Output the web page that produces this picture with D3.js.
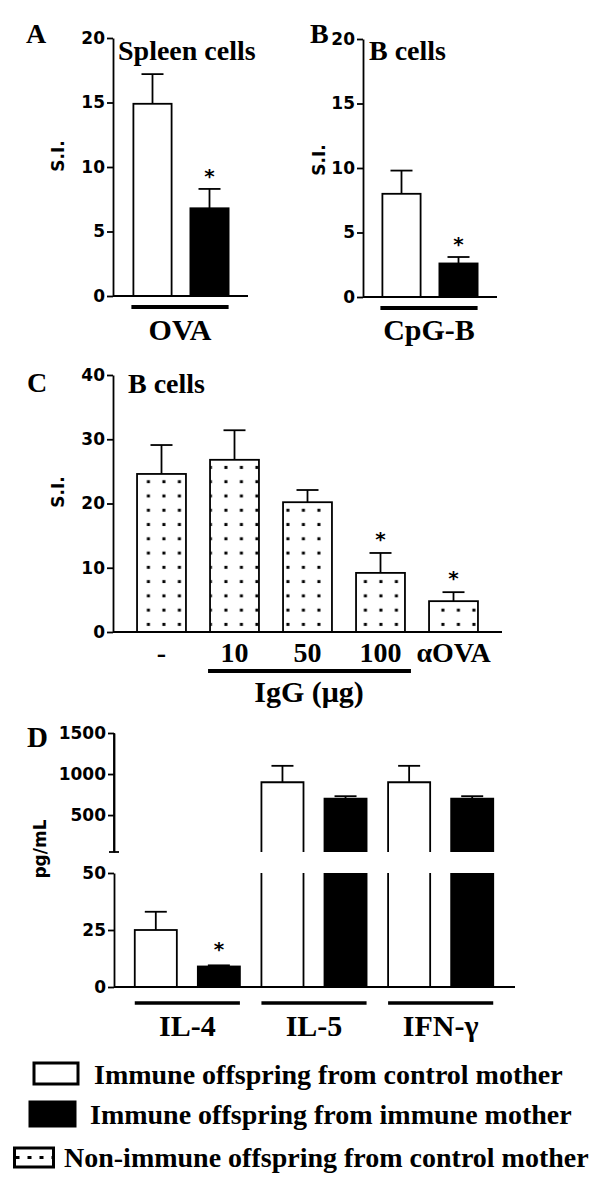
<!DOCTYPE html>
<html>
<head>
<meta charset="utf-8">
<script src="https://cdn.jsdelivr.net/npm/d3@7"></script>
<style>
  body { margin: 0; background: #fff; }
  svg { display: block; }
  .serif { font-family: "Liberation Serif", "Times New Roman", serif; font-weight: bold; }
  .sans { font-family: "DejaVu Sans", sans-serif; font-weight: bold; }
</style>
</head>
<body>
<div id="chart"></div>
<script>
// ---- data ----
var groups = ["control", "immune"];
var legendLabels = ["Immune offspring from control mother",
                    "Immune offspring from immune mother",
                    "Non-immune offspring from control mother"];

// A: spleen cells, OVA
var aMeans = [14.9, 6.8];
var aSem = [2.3, 1.5];
var aSig = [false, true];

// B: B cells, CpG-B
var bMeans = [8.0, 2.6];
var bSem = [1.8, 0.5];
var bSig = [false, true];

var siTicks = [0, 5, 10, 15, 20];

// C: B cells with IgG
var cCats = ["-", "10", "50", "100", "αOVA"];
var cMeans = [24.6, 26.8, 20.2, 9.2, 4.8];
var cSem = [4.5, 4.6, 1.9, 3.1, 1.4];
var cSig = [false, false, false, true, true];
var cTicks = [0, 10, 20, 30, 40];

// D: cytokines
var dCats = ["IL-4", "IL-5", "IFN-γ"];
var dControl = [25, 900, 900];
var dControlSem = [8, 200, 200];
var dImmune = [9, 700, 700];
var dImmuneSem = [0.5, 30, 30];
var dImmuneSig = [true, false, false];
var dLowTicks = [0, 25, 50];
var dHighTicks = [500, 1000, 1500];

var W = 600, H = 1199;
var svg = d3.select("#chart").append("svg").attr("width", W).attr("height", H);

var defs = svg.append("defs");
var pat = defs.append("pattern").attr("id", "dots")
  .attr("patternUnits", "userSpaceOnUse")
  .attr("x", 140.6).attr("y", 474.6)
  .attr("width", 15.5).attr("height", 14.27);
pat.append("rect").attr("width", 15.5).attr("height", 14.27).attr("fill", "#fff");
pat.append("rect").attr("x", 6.3).attr("y", 5.6).attr("width", 3).attr("height", 3).attr("fill", "#000");

var LW = 1.8;

function yAxis(g, scale, ticks, x) {
  var a = g.append("g").attr("transform", "translate(" + x + ",0)")
    .call(d3.axisLeft(scale).tickValues(ticks).tickSize(6).tickSizeOuter(0).tickPadding(2)
      .tickFormat(d3.format("d")));
  a.attr("font-family", "DejaVu Sans").attr("font-size", 17).attr("font-weight", "bold");
  a.selectAll("path, line").attr("stroke", "#000").attr("stroke-width", LW);
  return a;
}

function errorBar(g, cx, yBar, yErr) {
  g.append("line").attr("x1", cx).attr("x2", cx).attr("y1", yBar).attr("y2", yErr)
    .attr("stroke", "#000").attr("stroke-width", LW);
  g.append("line").attr("x1", cx - 11).attr("x2", cx + 11).attr("y1", yErr).attr("y2", yErr)
    .attr("stroke", "#000").attr("stroke-width", LW);
}

function star(g, cx, yErr) {
  g.append("text").attr("class", "sans").attr("x", cx).attr("y", yErr + 2)
    .attr("text-anchor", "middle").attr("font-size", 20).text("*");
}

function label(g, txt, x, y, size, anchor) {
  g.append("text").attr("class", "serif").attr("x", x).attr("y", y)
    .attr("font-size", size).attr("text-anchor", anchor || "start").text(txt);
}

function yTitle(g, txt, x, y) {
  g.append("text").attr("class", "sans").attr("font-size", 17)
    .attr("text-anchor", "middle")
    .attr("transform", "translate(" + x + "," + y + ") rotate(-90)").text(txt);
}

// ---- panels A & B ----
function twoBarPanel(p) {
  var g = svg.append("g");
  var x = d3.scaleBand().domain(groups).range(p.xr).paddingInner(0.33).paddingOuter(0.2);
  var y = d3.scaleLinear().domain([0, 20]).range(p.yr);
  var data = groups.map(function (k, i) { return { k: k, m: p.means[i], s: p.sem[i], sig: p.sig[i] }; });

  g.selectAll("rect.bar").data(data).enter().append("rect").attr("class", "bar")
    .attr("x", function (d) { return x(d.k); })
    .attr("width", x.bandwidth())
    .attr("y", function (d) { return y(d.m); })
    .attr("height", function (d) { return y(0) - y(d.m); })
    .attr("fill", function (d) { return d.k === "control" ? "#fff" : "#000"; })
    .attr("stroke", "#000").attr("stroke-width", LW);

  data.forEach(function (d) {
    var cx = x(d.k) + x.bandwidth() / 2;
    errorBar(g, cx, y(d.m), y(d.m + d.s));
    if (d.sig) star(g, cx, y(d.m + d.s) - 8);
  });

  yAxis(g, y, siTicks, p.ax);
  g.append("line").attr("x1", p.ax).attr("x2", p.axEnd).attr("y1", y(0)).attr("y2", y(0))
    .attr("stroke", "#000").attr("stroke-width", LW);

  var x0 = x(groups[0]) - 2, x1 = x(groups[1]) + x.bandwidth();
  g.append("line").attr("x1", x0).attr("x2", x1).attr("y1", y(0) + 11).attr("y2", y(0) + 11)
    .attr("stroke", "#000").attr("stroke-width", 4);
  label(g, p.cat, (x0 + x1) / 2, 340, 30, "middle");
  label(g, p.letter, p.letterX, 43, 28);
  label(g, p.title, p.titleX, 60, 28);
  yTitle(g, "S.I.", p.siX, p.siY);
}

twoBarPanel({ means: aMeans, sem: aSem, sig: aSig, xr: [122, 240], yr: [296, 38], ax: 113, axEnd: 248,
  cat: "OVA", letter: "A", letterX: 26, title: "Spleen cells", titleX: 118, siX: 64, siY: 156 });
twoBarPanel({ means: bMeans, sem: bSem, sig: bSig, xr: [371, 489], yr: [297, 39], ax: 363, axEnd: 497,
  cat: "CpG-B", letter: "B", letterX: 310, title: "B cells", titleX: 369, siX: 325, siY: 160 });

// ---- panel C ----
(function () {
  var g = svg.append("g");
  var x = d3.scaleBand().domain(cCats).range([125, 490]).paddingInner(0.33).paddingOuter(0.165);
  var y = d3.scaleLinear().domain([0, 40]).range([632, 375]);
  var data = cCats.map(function (c, i) { return { c: c, m: cMeans[i], s: cSem[i], sig: cSig[i] }; });

  g.selectAll("rect.bar").data(data).enter().append("rect").attr("class", "bar")
    .attr("x", function (d) { return x(d.c); })
    .attr("width", x.bandwidth())
    .attr("y", function (d) { return y(d.m); })
    .attr("height", function (d) { return y(0) - y(d.m); })
    .attr("fill", "url(#dots)")
    .attr("stroke", "#000").attr("stroke-width", LW);

  data.forEach(function (d) {
    var cx = x(d.c) + x.bandwidth() / 2;
    errorBar(g, cx, y(d.m), y(d.m + d.s));
    if (d.sig) star(g, cx, y(d.m + d.s) - 9);
  });

  yAxis(g, y, cTicks, 113);
  g.append("line").attr("x1", 113).attr("x2", 502).attr("y1", y(0)).attr("y2", y(0))
    .attr("stroke", "#000").attr("stroke-width", LW);

  g.selectAll("text.cat").data(cCats).enter().append("text").attr("class", "serif cat")
    .attr("x", function (c) { return x(c) + x.bandwidth() / 2; })
    .attr("y", 662).attr("font-size", 28).attr("text-anchor", "middle")
    .text(function (c) { return c; });

  var u0 = x("10") - 2, u1 = x("100") + x.bandwidth() + 6;
  g.append("line").attr("x1", u0).attr("x2", u1).attr("y1", 671).attr("y2", 671)
    .attr("stroke", "#000").attr("stroke-width", 4);
  label(g, "IgG (μg)", 309, 702, 30, "middle");
  label(g, "C", 27, 392, 28);
  label(g, "B cells", 128, 393, 28);
  yTitle(g, "S.I.", 64, 492);
})();

// ---- panel D (broken axis) ----
(function () {
  var g = svg.append("g");
  var x0 = d3.scaleBand().domain(dCats).range([124, 504]).paddingInner(0.17).paddingOuter(0.085);
  var x1 = d3.scaleBand().domain(groups).range([0, x0.bandwidth()]).paddingInner(0.333);
  var yLow = d3.scaleLinear().domain([0, 50]).range([987, 873]);
  var yHigh = d3.scaleLinear().domain([50, 1500]).range([852, 733]);
  var brk = 50;

  var data = [];
  dCats.forEach(function (c, i) {
    data.push({ c: c, k: "control", m: dControl[i], s: dControlSem[i], sig: false });
    data.push({ c: c, k: "immune", m: dImmune[i], s: dImmuneSem[i], sig: dImmuneSig[i] });
  });

  data.forEach(function (d) {
    var bx = x0(d.c) + x1(d.k), bw = x1.bandwidth(), cx = bx + bw / 2;
    var fill = d.k === "control" ? "#fff" : "#000";
    var errY;
    if (d.m <= brk) {
      g.append("rect").attr("x", bx).attr("width", bw).attr("y", yLow(d.m))
        .attr("height", yLow(0) - yLow(d.m)).attr("fill", fill)
        .attr("stroke", "#000").attr("stroke-width", LW);
      errY = yLow(d.m + d.s);
      errorBar(g, cx, yLow(d.m), errY);
    } else {
      // lower part, open at the break
      g.append("rect").attr("x", bx).attr("width", bw).attr("y", yLow(brk))
        .attr("height", yLow(0) - yLow(brk)).attr("fill", fill);
      g.append("path").attr("d", "M" + bx + "," + yLow(0) + "V" + yLow(brk) + "M" + (bx + bw) + "," + yLow(0) + "V" + yLow(brk))
        .attr("fill", "none").attr("stroke", "#000").attr("stroke-width", LW);
      // upper part
      g.append("rect").attr("x", bx).attr("width", bw).attr("y", yHigh(d.m))
        .attr("height", yHigh(brk) - yHigh(d.m)).attr("fill", fill);
      g.append("path").attr("d", "M" + bx + "," + yHigh(brk) + "V" + yHigh(d.m) + "H" + (bx + bw) + "V" + yHigh(brk))
        .attr("fill", "none").attr("stroke", "#000").attr("stroke-width", LW);
      errY = yHigh(d.m + d.s);
      errorBar(g, cx, yHigh(d.m), errY);
    }
    if (d.sig) star(g, cx, errY - 11);
  });

  yAxis(g, yLow, dLowTicks, 114);
  yAxis(g, yHigh, dHighTicks, 114);
  // end cap of the upper axis segment at the break
  g.append("line").attr("x1", 109).attr("x2", 119).attr("y1", yHigh(brk)).attr("y2", yHigh(brk))
    .attr("stroke", "#000").attr("stroke-width", LW);
  g.append("line").attr("x1", 114).attr("x2", 114).attr("y1", yHigh(brk)).attr("y2", yHigh(1500))
    .attr("stroke", "#000").attr("stroke-width", LW);
  g.append("line").attr("x1", 114).attr("x2", 515).attr("y1", yLow(0)).attr("y2", yLow(0))
    .attr("stroke", "#000").attr("stroke-width", LW);

  dCats.forEach(function (c) {
    var a = x0(c), b = x0(c) + x0.bandwidth();
    g.append("line").attr("x1", a).attr("x2", b).attr("y1", 1003).attr("y2", 1003)
      .attr("stroke", "#000").attr("stroke-width", 3.5);
    label(g, c, (a + b) / 2, 1036, 30, "middle");
  });
  label(g, "D", 27, 747, 29);
  yTitle(g, "pg/mL", 46, 849);
})();

// ---- legend ----
(function () {
  var g = svg.append("g");
  var rows = [
    { box: [34, 1063, 44, 21], tx: 94, ty: 1084, fill: "#fff" },
    { box: [30, 1102, 45, 24], tx: 90, ty: 1124, fill: "#000" },
    { box: [14.5, 1148, 39, 19], tx: 64, ty: 1167, fill: "#fff" }
  ];
  rows.forEach(function (r, i) {
    g.append("rect").attr("x", r.box[0]).attr("y", r.box[1]).attr("width", r.box[2]).attr("height", r.box[3])
      .attr("fill", r.fill).attr("stroke", "#000").attr("stroke-width", 3);
    if (i === 2) {
      g.append("line").attr("x1", r.box[0] + 1).attr("x2", r.box[0] + r.box[2] - 1)
        .attr("y1", r.box[1] + r.box[3] / 2).attr("y2", r.box[1] + r.box[3] / 2)
        .attr("stroke", "#000").attr("stroke-width", 3).attr("stroke-dasharray", "4,8");
    }
    label(g, legendLabels[i], r.tx, r.ty, 28);
  });
})();
</script>
</body>
</html>
